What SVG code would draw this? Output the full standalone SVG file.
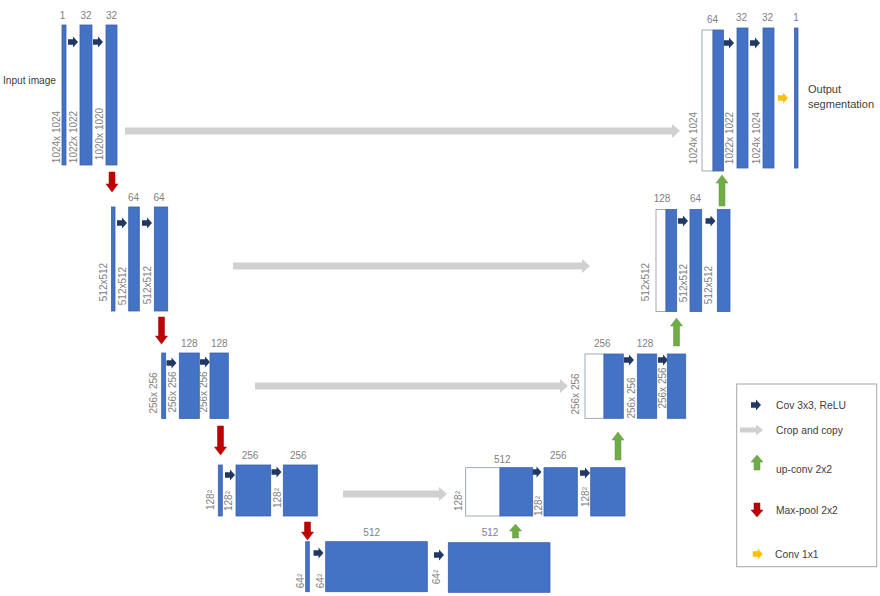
<svg xmlns="http://www.w3.org/2000/svg" xmlns:xlink="http://www.w3.org/1999/xlink" width="880" height="596" viewBox="0 0 880 596">
<style>
.b{fill:#4472C4;stroke:#3A63AD;stroke-width:0.8}
.w{fill:#FFFFFF;stroke:#8794AA;stroke-width:0.8}
.n{font-family:"Liberation Sans",Arial,sans-serif;font-size:10px;fill:#7F7F7F;text-anchor:middle}
.v{font-family:"Liberation Sans",Arial,sans-serif;font-size:10px;fill:#7F7F7F;text-anchor:middle;dominant-baseline:central}
.t{font-family:"Liberation Sans",Arial,sans-serif;font-size:11px;fill:#404040}
.lg{font-family:"Liberation Sans",Arial,sans-serif;font-size:10.3px;fill:#404040}
.cv{fill:#203864}
.cp{fill:#D0D0D0}
.up{fill:#70AD47;stroke:#5E9A3A;stroke-width:0.5}
.dn{fill:#C00000;stroke:#A00000;stroke-width:0.5}
.c1{fill:#FFC000}
</style>
<defs>
<path id="ra" d="M-5,-2.8 H0 V-5.5 L5,0 L0,5.5 V2.8 H-5 Z"/>
</defs>
<rect width="880" height="596" fill="#FFFFFF"/>

<g id="connectors">
  <polygon class="cp" points="125,127.5 672,127.5 672,124 680,131 672,138 672,134.5 125,134.5"/>
  <polygon class="cp" points="233,262.5 582,262.5 582,259 590,266 582,273 582,269.5 233,269.5"/>
  <polygon class="cp" points="255,382.5 560,382.5 560,379 568,386 560,393 560,389.5 255,389.5"/>
  <polygon class="cp" points="343,490.5 439,490.5 439,487 447,494 439,501 439,497.5 343,497.5"/>
  <use href="#ra" class="cv" x="73" y="42"/>
  <use href="#ra" class="cv" x="98" y="42"/>
  <use href="#ra" class="cv" x="729" y="43"/>
  <use href="#ra" class="cv" x="755" y="43"/>
  <use href="#ra" class="cv" x="122" y="223"/>
  <use href="#ra" class="cv" x="147" y="223"/>
  <use href="#ra" class="cv" x="683" y="221"/>
  <use href="#ra" class="cv" x="710.5" y="221"/>
  <use href="#ra" class="cv" x="171.5" y="363"/>
  <use href="#ra" class="cv" x="205" y="362"/>
  <use href="#ra" class="cv" x="629" y="360"/>
  <use href="#ra" class="cv" x="663" y="360"/>
  <use href="#ra" class="cv" x="230" y="475"/>
  <use href="#ra" class="cv" x="276.5" y="472"/>
  <use href="#ra" class="cv" x="536.5" y="472"/>
  <use href="#ra" class="cv" x="585" y="473"/>
  <use href="#ra" class="cv" x="318.5" y="553"/>
  <use href="#ra" class="cv" x="439" y="555"/>
  <use href="#ra" class="c1" x="783" y="98"/>
  <polygon class="dn" points="109,172 115,172 115,184 118,184 112,192 106,184 109,184"/>
  <polygon class="dn" points="158.5,317 164.5,317 164.5,336 167.5,336 161.5,344 155.5,336 158.5,336"/>
  <polygon class="dn" points="217.5,426 223.5,426 223.5,447 226.5,447 220.5,455 214.5,447 217.5,447"/>
  <polygon class="dn" points="304.5,522 310.5,522 310.5,532 313.5,532 307.5,540 301.5,532 304.5,532"/>
  <polygon class="up" points="719,206 725,206 725,183 728,183 722,175 716,183 719,183"/>
  <polygon class="up" points="673.5,346 679.5,346 679.5,326 682.5,326 676.5,318 670.5,326 673.5,326"/>
  <polygon class="up" points="615,460 621,460 621,440 624,440 618,432 612,440 615,440"/>
  <polygon class="up" points="512.5,538 518.5,538 518.5,531 521.5,531 515.5,524 509.5,531 512.5,531"/>
</g>

<g id="enc1">
  <rect class="b" x="62" y="25" width="4" height="140"/>
  <rect class="b" x="80" y="25" width="12" height="140"/>
  <rect class="b" x="106" y="25" width="11" height="140"/>
  <text class="n" x="62.5" y="19">1</text>
  <text class="n" x="86" y="19">32</text>
  <text class="n" x="111.5" y="19">32</text>
  <text class="v" transform="translate(56,137) rotate(-90)">1024x 1024</text>
  <text class="v" transform="translate(73.5,137) rotate(-90)">1022x 1022</text>
  <text class="v" transform="translate(99.5,134) rotate(-90)">1020x 1020</text>
  <text class="t" x="3" y="84" font-size="10.2" textLength="53" lengthAdjust="spacingAndGlyphs">Input image</text>
</g>

<g id="dec1">
  <rect class="w" x="702" y="30" width="11" height="141"/>
  <rect class="b" x="713" y="30" width="10.5" height="141"/>
  <rect class="b" x="737" y="28" width="11" height="140"/>
  <rect class="b" x="763" y="28" width="11" height="140"/>
  <rect class="b" x="794.5" y="28" width="3.5" height="140"/>
  <text class="n" x="712.5" y="23">64</text>
  <text class="n" x="741.5" y="20.5">32</text>
  <text class="n" x="767.5" y="20.5">32</text>
  <text class="n" x="796" y="20.5">1</text>
  <text class="v" transform="translate(693.5,138) rotate(-90)">1024x 1024</text>
  <text class="v" transform="translate(729.5,138) rotate(-90)">1022x 1022</text>
  <text class="v" transform="translate(756,138) rotate(-90)">1024x 1024</text>
  <text class="t" x="808" y="93">Output</text>
  <text class="t" x="808" y="108">segmentation</text>
</g>

<g id="enc2">
  <rect class="b" x="111.5" y="207" width="3.5" height="104"/>
  <rect class="b" x="128.7" y="207" width="10.6" height="104"/>
  <rect class="b" x="154.3" y="207" width="13.4" height="104"/>
  <text class="n" x="133.5" y="201">64</text>
  <text class="n" x="159" y="201">64</text>
  <text class="v" transform="translate(103.5,282) rotate(-90)">512x512</text>
  <text class="v" transform="translate(122,286) rotate(-90)">512x512</text>
  <text class="v" transform="translate(147,285) rotate(-90)">512x512</text>
</g>

<g id="dec2">
  <rect class="w" x="656" y="209.5" width="10" height="102"/>
  <rect class="b" x="666" y="209.5" width="10.7" height="102"/>
  <rect class="b" x="690" y="209.5" width="11.7" height="102"/>
  <rect class="b" x="717.3" y="209.5" width="12.7" height="102"/>
  <text class="n" x="662" y="202">128</text>
  <text class="n" x="695.5" y="202">64</text>
  <text class="v" transform="translate(645,282) rotate(-90)">512x512</text>
  <text class="v" transform="translate(683.5,283) rotate(-90)">512x512</text>
  <text class="v" transform="translate(708.5,285) rotate(-90)">512x512</text>
</g>

<g id="enc3">
  <rect class="b" x="161.7" y="353" width="4" height="65.5"/>
  <rect class="b" x="179.3" y="353" width="20" height="65.5"/>
  <rect class="b" x="210" y="353" width="18.3" height="65.5"/>
  <text class="n" x="189.3" y="347">128</text>
  <text class="n" x="219.3" y="347">128</text>
  <text class="v" transform="translate(153.5,393) rotate(-90)">256x 256</text>
  <text class="v" transform="translate(172,392) rotate(-90)">256x 256</text>
  <text class="v" transform="translate(203.5,392) rotate(-90)">256x 256</text>
</g>

<g id="dec3">
  <rect class="w" x="585" y="354" width="19" height="64.3"/>
  <rect class="b" x="604" y="354" width="19.3" height="64.3"/>
  <rect class="b" x="637.3" y="354" width="19.4" height="64.3"/>
  <rect class="b" x="667.3" y="354" width="18.4" height="64.3"/>
  <text class="n" x="602.3" y="347">256</text>
  <text class="n" x="645" y="347">128</text>
  <text class="v" transform="translate(575,394) rotate(-90)">256x 256</text>
  <text class="v" transform="translate(631,398) rotate(-90)">256x 256</text>
  <text class="v" transform="translate(662,388) rotate(-90)">256x 256</text>
</g>

<g id="enc4">
  <rect class="b" x="218.3" y="465" width="4" height="51"/>
  <rect class="b" x="236" y="465" width="34.7" height="51"/>
  <rect class="b" x="283.3" y="465" width="34" height="51"/>
  <text class="n" x="250" y="459">256</text>
  <text class="n" x="298.3" y="459">256</text>
  <text class="v" transform="translate(210,500) rotate(-90)">128²</text>
  <text class="v" transform="translate(228.5,501) rotate(-90)">128²</text>
  <text class="v" transform="translate(277,498) rotate(-90)">128²</text>
</g>

<g id="dec4">
  <rect class="w" x="465.7" y="467.7" width="34.3" height="48.3"/>
  <rect class="b" x="500" y="467.7" width="32.7" height="48.3"/>
  <rect class="b" x="544" y="467.7" width="33.3" height="48.3"/>
  <rect class="b" x="590.7" y="467.7" width="34.3" height="48.3"/>
  <text class="n" x="502.3" y="463">512</text>
  <text class="n" x="558.3" y="459">256</text>
  <text class="v" transform="translate(458.5,501) rotate(-90)">128²</text>
  <text class="v" transform="translate(538.5,506) rotate(-90)">128²</text>
  <text class="v" transform="translate(585,497) rotate(-90)">128²</text>
</g>

<g id="bottleneck">
  <rect class="b" x="305.7" y="541.7" width="3.6" height="50"/>
  <rect class="b" x="325.7" y="541.7" width="101.6" height="50"/>
  <rect class="b" x="448.3" y="542.7" width="101.7" height="49.6"/>
  <text class="n" x="371.7" y="535.5">512</text>
  <text class="n" x="490" y="535.5">512</text>
  <text class="v" transform="translate(300,581) rotate(-90)">64²</text>
  <text class="v" transform="translate(320,581) rotate(-90)">64²</text>
  <text class="v" transform="translate(436,577) rotate(-90)">64²</text>
</g>

<g id="legend">
  <rect x="736.7" y="384" width="140" height="182.7" fill="#FFFFFF" stroke="#A6A6A6" stroke-width="1"/>
  <use href="#ra" class="cv" x="756" y="405"/>
  <text class="lg" x="776" y="409">Cov 3x3, ReLU</text>
  <polygon class="cp" points="740,427.5 756,427.5 756,424.5 763,430 756,435.5 756,432.5 740,432.5"/>
  <text class="lg" x="776" y="434">Crop and copy</text>
  <polygon class="up" points="754,470 760,470 760,462 763,462 757,455 751,462 754,462"/>
  <text class="lg" x="776" y="473">up-conv 2x2</text>
  <polygon class="dn" points="754,503 760,503 760,510 763,510 757,517 751,510 754,510"/>
  <text class="lg" x="776" y="514">Max-pool 2x2</text>
  <use href="#ra" class="c1" x="757.7" y="554"/>
  <text class="lg" x="775" y="558">Conv 1x1</text>
</g>
</svg>
